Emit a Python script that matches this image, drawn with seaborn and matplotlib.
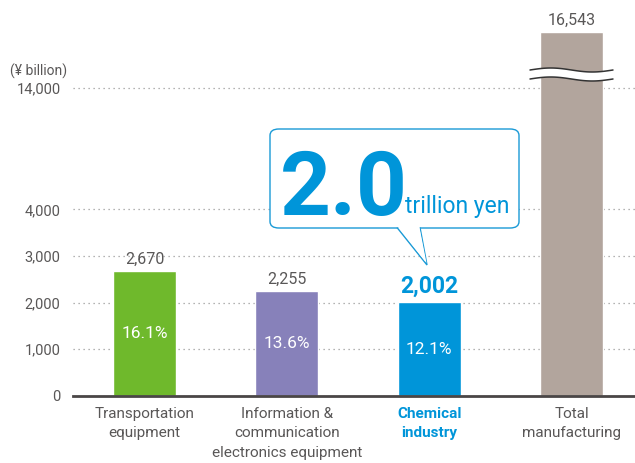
import numpy as np
import pandas as pd
import matplotlib
matplotlib.use("Agg")
import matplotlib.pyplot as plt
import seaborn as sns
from matplotlib.patches import FancyBboxPatch, Polygon
from matplotlib.lines import Line2D

categories = ["Transportation\nequipment", "Information &\ncommunication\nelectronics equipment",
              "Chemical\nindustry", "Total\nmanufacturing"]
values = [2670, 2255, 2002, 16543]
value_labels = ["2,670", "2,255", "2,002", "16,543"]
shares = ["16.1%", "13.6%", "12.1%", None]
colors = ["#6fb92c", "#8781ba", "#0095d9", "#b2a59d"]
yticks = [0, 1000, 2000, 3000, 4000, 14000]
ytick_labels = ["0", "1,000", "2,000", "3,000", "4,000", "14,000"]
callout_big = "2.0"
callout_small = "trillion yen"
unit_label = "(¥ billion)"

sns.set_theme(style="white")
FONT = ["Roboto", "DejaVu Sans"]
plt.rcParams["font.family"] = FONT
GRAY = "#595757"
BLUE = "#0095d9"

W, H = 635, 463
fig = plt.figure(figsize=(W / 100, H / 100), dpi=100)
ax = fig.add_axes([73 / W, (H - 395.7) / H, 1 - 73 / W, 395.7 / H])

# broken (piecewise-linear) value scale
YB = [0, 4000, 14000, 16543, 40000]
PB = [0, 186.4, 307.7, 363.7, 363.7 + (40000 - 16543) * 56 / 2543]
fwd = lambda y: np.interp(y, YB, PB)
inv = lambda p: np.interp(p, PB, YB)
ax.set_yscale("function", functions=(fwd, inv))

df = pd.DataFrame({"cat": categories, "val": values})
sns.barplot(data=df, x="cat", y="val", hue="cat", palette=colors, dodge=False,
            width=0.443, legend=False, ax=ax, saturation=1)

ax.set_xlim(-0.502, 3.446)
ax.set_ylim(0, inv(395.7))
ax.set_yticks(yticks)
ax.set_yticklabels(ytick_labels)
ax.set_axisbelow(True)
ax.grid(axis="y", linestyle=(0, (1, 3)), color="#9a9a9a", linewidth=0.9)
ax.grid(axis="x", visible=False)
for s in ["top", "right", "left"]:
    ax.spines[s].set_visible(False)
ax.spines["bottom"].set_color("#4a4646")
ax.spines["bottom"].set_linewidth(2)
ax.tick_params(axis="y", length=0, pad=9, labelsize=10.5, labelcolor=GRAY)
ax.tick_params(axis="x", length=0, pad=8, labelsize=11, labelcolor=GRAY)
ax.set_xlabel("")
ax.set_ylabel("")
for lab in ax.get_yticklabels():
    lab.set_family(FONT)
for i, lab in enumerate(ax.get_xticklabels()):
    lab.set_family(FONT)
    lab.set_linespacing(1.5)
    if i == 2:
        lab.set_color(BLUE)
        lab.set_fontweight("bold")

# value labels
for i, (v, t) in enumerate(zip(values, value_labels)):
    if i == 2:
        ax.annotate(t, (i, v), xytext=(0, 3), textcoords="offset points", ha="center",
                    va="bottom", fontsize=16.5, fontweight="bold", color=BLUE, family=FONT)
    else:
        ax.annotate(t, (i, v), xytext=(0, 3), textcoords="offset points", ha="center",
                    va="bottom", fontsize=11.5, color=GRAY, family=FONT)
for i, (v, s) in enumerate(zip(values, shares)):
    if s:
        ax.text(i, v / 2, s, ha="center", va="center", fontsize=12.5, color="white", family=FONT)

def fx(px):
    return px / W

def fy(py):
    return 1 - py / H

# break marks on total bar
xs = np.linspace(530, 613, 60)
t = (xs - 530) / (613 - 530)
top = 70 - 2.0 * np.sin(2 * np.pi * t)
bot = 79 - 2.0 * np.sin(2 * np.pi * t)
poly = np.concatenate([np.column_stack([xs, top]), np.column_stack([xs[::-1], bot[::-1]])])
fig.patches.append(Polygon(np.column_stack([fx(poly[:, 0]), fy(poly[:, 1])]),
                           closed=True, facecolor="white", edgecolor="none",
                           transform=fig.transFigure, zorder=5))
for yy in (top, bot):
    fig.lines.append(Line2D(fx(xs), fy(yy), color="#333333", linewidth=1.1,
                            transform=fig.transFigure, zorder=6))

# callout box
bx0, bx1, by0, by1 = 270, 519, 129, 228
box = FancyBboxPatch((fx(bx0), fy(by1)), fx(bx1 - bx0), (by1 - by0) / H,
                     boxstyle="round,pad=0,rounding_size=0.014",
                     transform=fig.transFigure, facecolor="white", edgecolor="#1a9ad6",
                     linewidth=1.0, zorder=7)
fig.patches.append(box)
tri = [(397, 227.5), (427, 265), (420, 227.5)]
fig.patches.append(Polygon([(fx(a), fy(b)) for a, b in tri], closed=False, facecolor="white",
                           edgecolor="#1a9ad6", linewidth=1.0, transform=fig.transFigure,
                           zorder=8))
fig.patches.append(Polygon([(fx(398), fy(226.5)), (fx(426.5), fy(263)), (fx(419.3), fy(226.5))],
                           closed=True, facecolor="white", edgecolor="none",
                           transform=fig.transFigure, zorder=9))
fig.text(fx(280), fy(215), callout_big, fontsize=64, fontweight="bold", color=BLUE,
         ha="left", va="baseline", family=FONT, zorder=10)
fig.text(fx(405), fy(213), callout_small, fontsize=16.5, color=BLUE,
         ha="left", va="baseline", family=FONT, zorder=10)

fig.text(fx(10), fy(71), unit_label, fontsize=10, color=GRAY, ha="left", va="center", family=FONT)

fig.savefig("out.png", dpi=100)
